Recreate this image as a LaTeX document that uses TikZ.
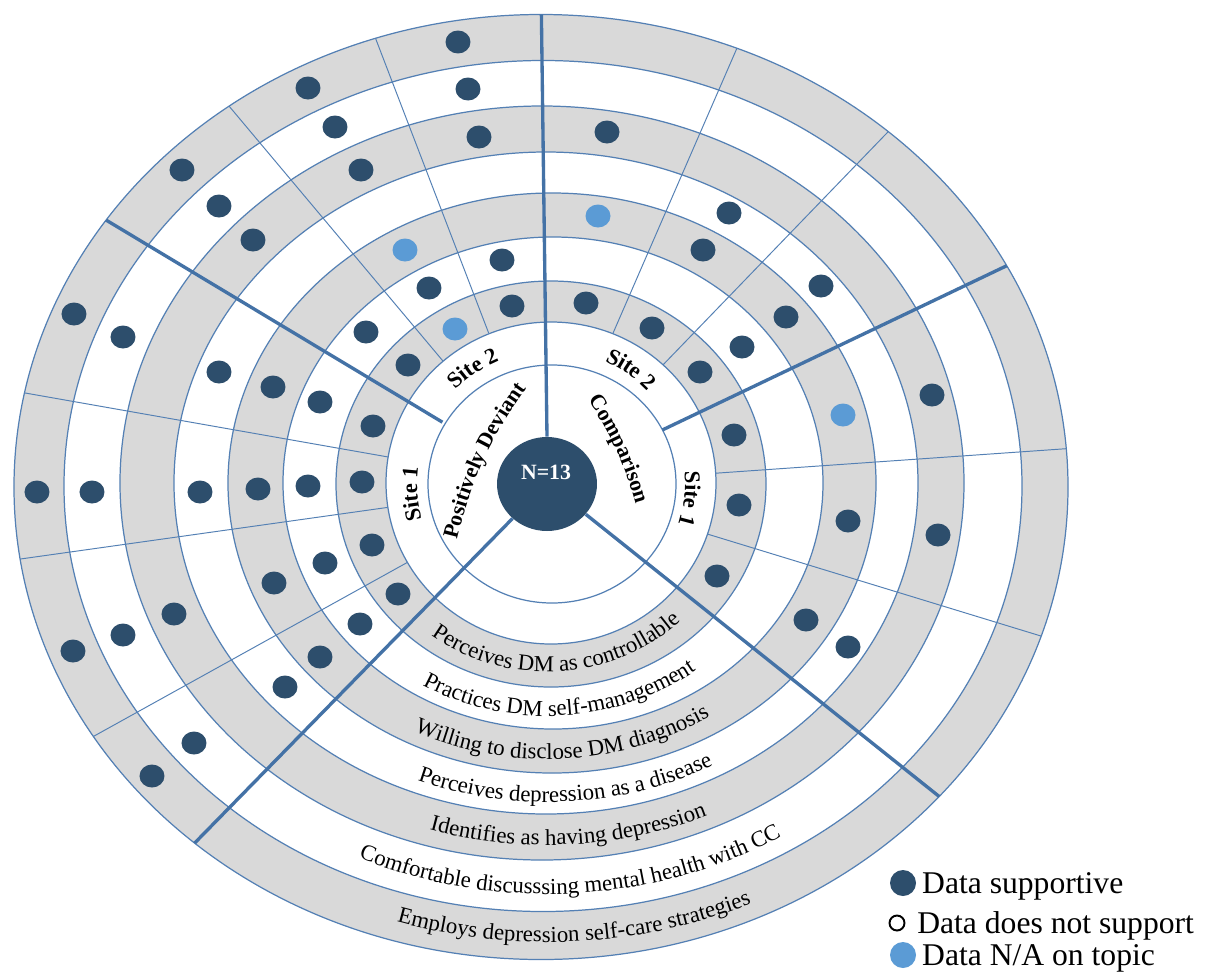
\documentclass[tikz,border=0pt]{standalone}
\usepackage{fontspec}
\setmainfont{Liberation Serif}
\usetikzlibrary{shapes,positioning,decorations.text}

\definecolor{navy}{RGB}{45,78,108}
\definecolor{skyblue}{RGB}{91,155,213}
\definecolor{ringline}{RGB}{84,128,180}
\definecolor{spoke}{RGB}{68,114,166}
\definecolor{band}{RGB}{217,217,217}

\newcommand{\ringfont}{\fontsize{13}{15}\selectfont}
\newcommand{\groupfont}{\bfseries\fontsize{12.4}{14}\selectfont}
\newcommand{\sitefont}{\bfseries\fontsize{12.8}{14}\selectfont}

\begin{document}
\begin{tikzpicture}[x=0.02cm, y=0.02cm,
    ringedge/.style={draw=ringline, line width=0.7pt},
    spokeminor/.style={draw=ringline, line width=0.55pt},
    spokemajor/.style={draw=spoke, line width=1.9pt},
    hitdot/.style={ellipse, fill=navy, minimum width=0.5cm, minimum height=0.46cm, inner sep=0pt},
    nadot/.style={hitdot, fill=skyblue},
    arclabel/.style={decorate, decoration={text along path, text align=center}},
    legdot/.style={circle, fill=navy, minimum size=0.52cm, inner sep=0pt},
    legtext/.style={font=\fontsize{18}{20}\selectfont, inner sep=0pt, text height=0.41cm, text depth=0pt}]
  \useasboundingbox (-547,-490) rectangle (665,485);

  % rings, outside in
  \foreach \cx/\cy/\rx/\ry/\col in {-6/-2/527/472.5/band, -4/-1/479/425.5/white,
      -5/2/422/377/band, -1/2/372/331/white, 5/2/324/290/band, 6/2/270/246/white,
      4/1/215/203/band, 4/2/165/161/white, 5/1/124/119/white}
    \draw[ringedge, fill=\col] (\cx,\cy) ellipse [x radius=\rx, y radius=\ry];

  \node[ellipse, fill=navy, minimum width=2cm, minimum height=1.88cm] (core) at (0,1) {};
  \node[text=white, font=\groupfont] (total) at (-1,13) {N=13};

  % participants and sites
  \begin{scope}
    \clip (-6,-2) ellipse [x radius=527, y radius=472.5];
    \foreach \a/\r in {111/163, 130/162, 170/161, 188/161, 209/160, 66.5/165, 46/167, 4/169, -17/168}
      \draw[spokeminor] (\a:\r) -- (\a:600);
    \draw[spokemajor] (149:122) -- (149:600);
    \draw[spokemajor] (25.5:128) -- (25.5:600);
    \draw[spokemajor] (core.north) -- (90.7:600);
    \draw[spokemajor] (core.225.5) -- (225.5:700);
    \draw[spokemajor] (core.-38.5) -- (-38.5:700);
  \end{scope}

  % data supportive
  \foreach \x/\y [count=\i] in {512/306, 502/260, 479/137, 468/89, 458/42,
      429/288, 361/170, 335/127, 308/88,
      408/365, 366/332, 253/240, 219/206, 182/170,
      373/426, 320/402, 273/387, 219/372, 123/337, 74/314,
      362/482, 308/486, 258/489, 200/492, 92/492, 37/492,
      372/545, 325/563, 274/583, 174/614, 123/635, 73/651,
      398/594, 360/624, 320/657, 285/687, 194/743, 152/776,
      586/303, 607/132,
      652/328, 703/250, 729/213,
      700/372, 742/347, 786/317, 821/286,
      734/435, 932/395,
      739/505, 848/521, 938/535,
      717/576, 806/620, 848/647}
    \node[hitdot] (sup\i) at (\x-547, 485-\y) {};
  % data N/A
  \foreach \x/\y [count=\i] in {455/329, 405/250, 598/216, 843/415}
    \node[nadot] (na\i) at (\x-547, 485-\y) {};

  % group and site names
  \path[arclabel, decoration={text={|\groupfont|Positively Deviant}}] (-94,-71.6) to[bend left=12] (-10.6,110.2);
  \path[arclabel, decoration={text={|\groupfont|Comparison}}] (21.8,112.2) to[bend left=12] (96.8,-51.4);
  \path[arclabel, decoration={text={|\sitefont|Site 2}}] ([shift={(4,1)}]154:134) arc[start angle=154, end angle=94, radius=134];
  \path[arclabel, decoration={text={|\sitefont|Site 1}}] ([shift={(4,1)}]214:134) arc[start angle=214, end angle=154, radius=134];
  \path[arclabel, decoration={text={|\sitefont|Site 2}}] ([shift={(4,1)}]85:134) arc[start angle=85, end angle=25, radius=134];
  \path[arclabel, decoration={text={|\sitefont|Site 1}}] ([shift={(4,1)}]24:134) arc[start angle=24, end angle=-36, radius=134];

  % ring names
  \path[arclabel, decoration={text={|\ringfont|Perceives DM as controllable}}] (208.5:195 and 187) arc[start angle=208.5, end angle=338.5, x radius=195, y radius=187];
  \path[arclabel, decoration={text={|\ringfont|Practices DM self-management}}] (208.5:250 and 231) arc[start angle=208.5, end angle=338.5, x radius=250, y radius=231];
  \path[arclabel, decoration={text={|\ringfont|Willing to disclose DM diagnosis}}] (208.5:305 and 274) arc[start angle=208.5, end angle=338.5, x radius=305, y radius=274];
  \path[arclabel, decoration={text={|\ringfont|Perceives depression as a disease}}] (208.5:356 and 317) arc[start angle=208.5, end angle=338.5, x radius=356, y radius=317];
  \path[arclabel, decoration={text={|\ringfont|Identifies as having depression}}] (208.5:404 and 360) arc[start angle=208.5, end angle=338.5, x radius=404, y radius=360];
  \path[arclabel, decoration={text={|\ringfont|Comfortable discusssing mental health with CC}}] (208.5:458 and 409) arc[start angle=208.5, end angle=338.5, x radius=458, y radius=409];
  \path[arclabel, decoration={text={|\ringfont|Employs depression self-care strategies}}] (208.5:510 and 457) arc[start angle=208.5, end angle=338.5, x radius=510, y radius=457];

  % legend
  \node[legdot] (legsup) at (356,-398) {};
  \node[legtext, right=0.11cm of legsup] (legsuptxt) {Data supportive};
  \node[circle, draw=black, line width=1.1pt, minimum size=0.3cm, inner sep=0pt] (legnot) at (350,-438) {};
  \node[legtext, right=0.23cm of legnot] (legnottxt) {Data does not support};
  \node[legdot, fill=skyblue] (legna) at (356,-470) {};
  \node[legtext, right=0.11cm of legna] (legnatxt) {Data N/A on topic};
\end{tikzpicture}
\end{document}
